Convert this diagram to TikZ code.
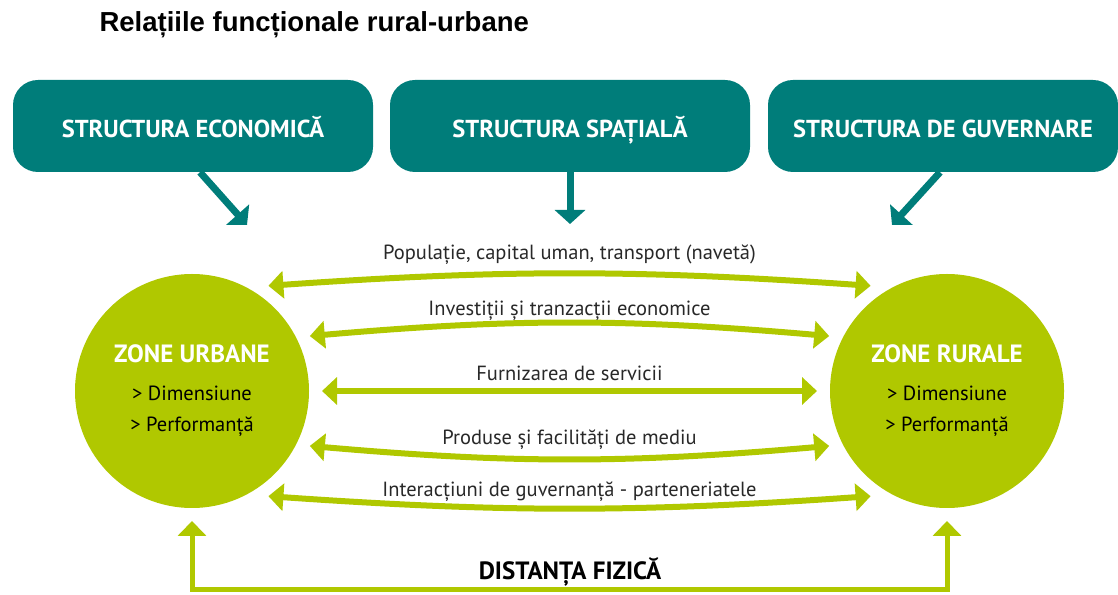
\documentclass[tikz,border=0pt]{standalone}
\usepackage{fontspec}
\setmainfont{PT Sans}
\newfontfamily\titlefont{Liberation Sans}
\usetikzlibrary{arrows.meta}
\definecolor{structteal}{RGB}{0,125,122}
\definecolor{zonelime}{RGB}{176,200,0}
\definecolor{labelgray}{RGB}{40,40,40}

\begin{document}
\begin{tikzpicture}[x=1pt,y=1pt]
        \tikzstyle{structbox}=[fill=structteal, rounded corners=25pt, minimum width=360pt, minimum height=92pt, text height=28pt, text depth=4pt, text=white, font=\fontsize{24.5}{28}\selectfont\bfseries]
        \tikzstyle{zone}=[circle, fill=zonelime, minimum size=234pt, inner sep=0pt, outer sep=13pt, align=center, text=black, font=\fontsize{20.5}{31}\selectfont]
        \tikzstyle{feed}=[draw=structteal, line width=7pt, -{Triangle[length=14pt,width=30pt]}]
        \tikzstyle{relarrow}=[draw=zonelime, line width=6pt, {Triangle[length=15pt,width=27pt]}-{Triangle[length=15pt,width=27pt]}]
        \tikzstyle{rellabel}=[midway, anchor=base, text=labelgray, font=\fontsize{20.5}{24}\selectfont]
        \tikzstyle{distarrow}=[draw=zonelime, line width=5pt, {Triangle[length=15pt,width=28pt]}-{Triangle[length=15pt,width=28pt]}]
        \useasboundingbox (0,0) rectangle (1118,594);
        \node[anchor=base west, font=\titlefont\fontsize{27.5}{32}\selectfont\bfseries] (title) at (96,562) {Relațiile funcționale rural-urbane};
        % the three structures
        \node[structbox] (econ) at (193,468) {STRUCTURA ECONOMICĂ};
        \node[structbox] (spatial) at (570,468) {STRUCTURA SPAȚIALĂ};
        \node[structbox, minimum width=350pt] (gov) at (943,468) {STRUCTURA DE GUVERNARE};
        % the two zones
        \node[zone] (urban) at (192,203) {{\fontsize{25}{31}\selectfont\bfseries\color{white}ZONE URBANE}\\[7pt] > Dimensiune\\ > Performanță};
        \node[zone] (rural) at (947,203) {{\fontsize{25}{31}\selectfont\bfseries\color{white}ZONE RURALE}\\[7pt] > Dimensiune\\ > Performanță};
        \coordinate (econtip) at (247,369);
        \coordinate (spatialtip) at (570,370);
        \coordinate (govtip) at (892,369);
        \draw[feed] ([xshift=7pt]econ.south) -- (econtip);
        \draw[feed] (spatial.south) -- (spatialtip);
        \draw[feed] ([xshift=-3pt]gov.south) -- (govtip);
        % relations between the zones
        \foreach \a/\b/\bnd/\up/\txt in {54/126/4/14/{Populație, capital uman, transport (navetă)},
                25/155/5/7/{Investiții și tranzacții economice},
                0/180/0/10/{Furnizarea de servicii},
                -25/205/-5/15/{Produse și facilități de mediu},
                -54/234/-4/12/{Interacțiuni de guvernanță - parteneriatele}}
            \draw[relarrow] (urban.\a) to[bend left=\bnd] node[rellabel, yshift=\up pt] {\txt} (rural.\b);
        % physical distance
        \node[font=\fontsize{25}{29}\selectfont\bfseries, text=black] (dist) at (570,22) {DISTANȚA FIZICĂ};
        \coordinate (distbase) at (570,5);
        \draw[distarrow] (urban.south) |- (distbase) -| (rural.south);
    \end{tikzpicture}
\end{document}
